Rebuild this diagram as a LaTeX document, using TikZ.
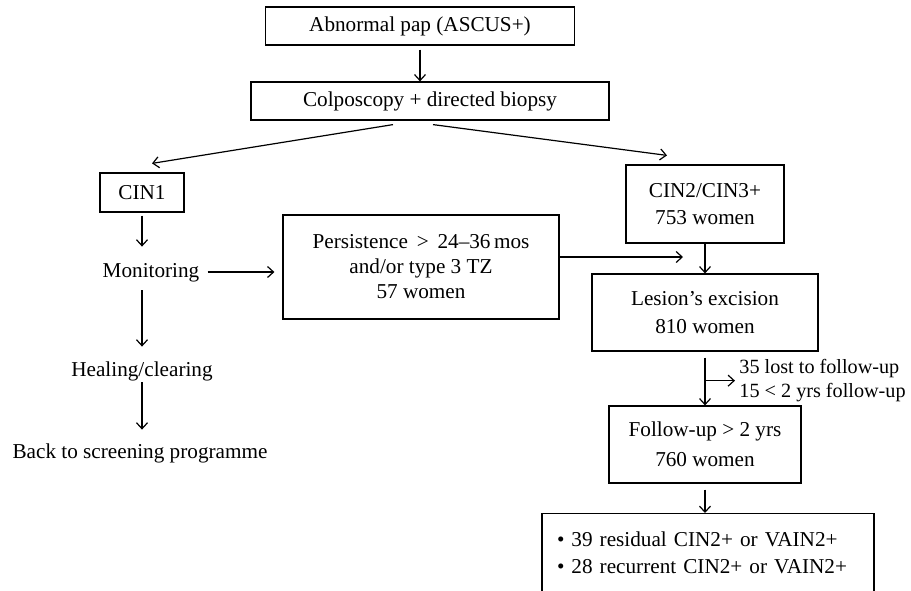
\documentclass[tikz,border=0pt]{standalone}
\usepackage{fontspec}
\setmainfont{Liberation Serif}
\usetikzlibrary{positioning,calc,arrows.meta}

\begin{document}
\begin{tikzpicture}[x=0.5pt, y=-0.5pt, font=\fontsize{10.6}{12.5}\selectfont]
            \tikzstyle{box} = [draw, line width=0.6pt, inner sep=0pt, align=center]
            \tikzstyle{plain} = [inner sep=0pt, text height=7pt, text depth=2pt]
            \tikzstyle{arr} = [-{Straight Barb[length=3pt, width=5.5pt]}, line width=0.6pt]
            \useasboundingbox (0,0) rectangle (911,590);
            \node[box, minimum width=154.5pt, minimum height=19pt] (pap) at (420, 26) {Abnormal pap (ASCUS+)};
            \node[box, minimum width=179pt, minimum height=19pt] (colpo) at (430, 101) {Colposcopy + directed biopsy};
            \node[box, minimum width=42pt, minimum height=19.5pt] (cin1) at (142, 192.5) {CIN1};
            \node[plain, anchor=base] (monit) at (151, 277) {Monitoring};
            \node[plain, anchor=base] (heal) at (142, 376) {Healing/clearing};
            \node[plain, anchor=base] (back) at (140, 458) {Back to screening programme};
            \node[box, minimum width=138pt, minimum height=52pt] (persist) at (421, 267) {Persistence \,>\, 24--36\,mos\\and/or type 3 TZ\\57 women};
            \node[box, minimum width=79pt, minimum height=39pt] (cin2) at (705, 204) {CIN2/CIN3+\\[1pt]753 women};
            \node[box, minimum width=113pt, minimum height=38.5pt] (lesion) at (705, 312.5) {Lesion's excision\\[1.5pt]810 women};
            \node[box, minimum width=96pt, minimum height=38.5pt] (follow) at (705, 444.5) {Follow-up > 2 yrs\\[2.5pt]760 women};
            \node[box, anchor=north, align=left, text width=151pt, inner xsep=7.5pt, inner ysep=9pt, text depth=40pt] (result) at (708, 513) {\textbullet~39 residual CIN2+ or VAIN2+\\[1pt]\textbullet~28 recurrent CIN2+ or VAIN2+};
            \coordinate (fork) at ($(lesion.south)!0.54!(follow.north)$);
            \node[inner sep=0pt, align=left, right=17pt of fork, font=\fontsize{10.1}{12}\selectfont] (lost) {35 lost to follow-up\\15 < 2 yrs follow-up};
            % connectors
            \draw[arr, shorten <=2pt] (pap.south) -- (pap.south |- colpo.north);
            \draw[arr] ($(colpo.south)+(-37,4)$) -- ($(cin1.north)+(10,-9)$);
            \draw[arr] ($(colpo.south)+(3,4)$) -- ($(cin2.north)+(-38,-9)$);
            \draw[arr, shorten <=1.5pt, shorten >=8pt] (cin1.south) -- (cin1.south |- monit.north);
            \draw[arr, shorten <=4.5pt, shorten >=7.5pt] (monit.south -| heal.north) -- (heal.north);
            \draw[arr, shorten <=1pt, shorten >=7pt] (heal.south) -- (heal.south |- back.north);
            \draw[arr, shorten <=4pt, shorten >=4pt] (monit.east) -- (monit.east -| persist.west);
            \draw[arr, shorten >=11pt] ([yshift=5pt]persist.east) -- ([yshift=5pt]persist.east -| lesion.north);
            \draw[arr] (cin2) -- (lesion);
            \draw[arr, shorten <=3pt] (lesion) -- (follow);
            \draw[arr, shorten >=2pt] (fork) -- (lost.west);
            \draw[arr, shorten <=3pt] (follow.south) -- (follow.south |- result.north);
        \end{tikzpicture}
\end{document}
